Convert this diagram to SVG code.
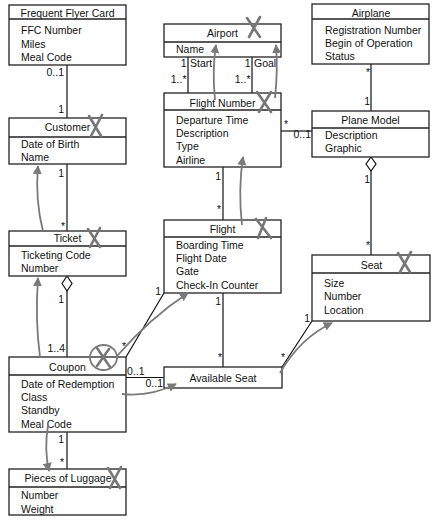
<svg xmlns="http://www.w3.org/2000/svg" width="444" height="527" viewBox="0 0 444 527">
<style>
.box{fill:#fff;stroke:#222;stroke-width:1.3}
.sep{stroke:#222;stroke-width:1.3}
.t{font-family:"Liberation Sans",Arial,sans-serif;font-size:10.5px;fill:#111}
.c{text-anchor:middle}
.m{font-family:"Liberation Sans",Arial,sans-serif;font-size:10.5px;fill:#111;text-anchor:end}
.ms{font-family:"Liberation Sans",Arial,sans-serif;font-size:10.5px;fill:#111}
.ln{stroke:#111;stroke-width:1.2;fill:none}
.dia{fill:#fff;stroke:#111;stroke-width:1.2}
.g{stroke:#7a7a7a;stroke-width:1.8;fill:none}
.x{stroke:#777;stroke-width:2.6;stroke-linecap:round;fill:none}
</style>
<defs>
<marker id="ah" viewBox="0 0 10 10" refX="9" refY="5" markerWidth="5" markerHeight="5" orient="auto" markerUnits="strokeWidth">
<path d="M0,0 L10,5 L0,10 z" fill="#7a7a7a"/>
</marker>
</defs>
<rect width="444" height="527" fill="#fff"/>

<g id="connectors">
<line class="ln" x1="67" y1="65" x2="67" y2="118"/>
<line class="ln" x1="67" y1="164" x2="67" y2="231"/>
<line class="ln" x1="67" y1="291" x2="67" y2="357"/>
<polygon class="dia" points="67,276 72,283.5 67,291 62,283.5"/>
<line class="ln" x1="67" y1="432" x2="67" y2="469"/>
<line class="ln" x1="188" y1="57" x2="188" y2="93"/>
<line class="ln" x1="252" y1="57" x2="252" y2="93"/>
<line class="ln" x1="223" y1="167" x2="223" y2="220"/>
<line class="ln" x1="223" y1="293" x2="223" y2="367"/>
<line class="ln" x1="281" y1="131" x2="312" y2="131"/>
<line class="ln" x1="371" y1="64" x2="371" y2="111"/>
<line class="ln" x1="371" y1="171" x2="371" y2="255"/>
<polygon class="dia" points="371,157 376,164 371,171 366,164"/>
<line class="ln" x1="126" y1="357" x2="164" y2="293"/>
<line class="ln" x1="126" y1="377.5" x2="164" y2="377.5"/>
<line class="ln" x1="282" y1="367" x2="312" y2="321"/>

<text class="m" x="64" y="76">0..1</text>
<text class="m" x="64" y="113">1</text>
<text class="m" x="64" y="177">1</text>
<text class="m" x="65" y="230">*</text>
<text class="m" x="64" y="303">1</text>
<text class="m" x="65" y="352">1..4</text>
<text class="m" x="64" y="443">1</text>
<text class="m" x="64" y="466">*</text>
<text class="m" x="186.5" y="67">1</text>
<text class="ms" x="190" y="67">Start</text>
<text class="m" x="186.5" y="83">1..*</text>
<text class="m" x="250.5" y="67">1</text>
<text class="ms" x="254" y="67">Goal</text>
<text class="m" x="250.5" y="83">1..*</text>
<text class="m" x="221" y="180">1</text>
<text class="m" x="221" y="213">*</text>
<text class="m" x="221" y="305">1</text>
<text class="m" x="222" y="361">*</text>
<text class="ms" x="284" y="128">*</text>
<text class="m" x="311" y="138">0..1</text>
<text class="m" x="370" y="76">*</text>
<text class="m" x="370" y="105">1</text>
<text class="m" x="370" y="183">1</text>
<text class="m" x="370" y="249">*</text>
<text class="ms" x="122" y="350">*</text>
<text class="m" x="161" y="295">1</text>
<text class="ms" x="127" y="375">0..1</text>
<text class="m" x="163" y="387">0..1</text>
<text class="m" x="310" y="322">1</text>
<text class="m" x="285" y="361">*</text>
</g>

<g id="ffc">
<rect class="box" x="9" y="5" width="117" height="60"/>
<line class="sep" x1="9" y1="19" x2="126" y2="19"/>
<text class="t c" x="67.5" y="17">Frequent Flyer Card</text>
<text class="t" x="21" y="34">FFC Number</text>
<text class="t" x="21" y="47.5">Miles</text>
<text class="t" x="21" y="61">Meal Code</text>
</g>

<g id="customer">
<rect class="box" x="9" y="118" width="117" height="46"/>
<line class="sep" x1="9" y1="137" x2="126" y2="137"/>
<text class="t c" x="67.5" y="131">Customer</text>
<text class="t" x="21" y="147.5">Date of Birth</text>
<text class="t" x="21" y="161">Name</text>
</g>

<g id="ticket">
<rect class="box" x="9" y="231" width="117" height="45"/>
<line class="sep" x1="9" y1="246" x2="126" y2="246"/>
<text class="t c" x="67.5" y="242">Ticket</text>
<text class="t" x="21" y="258.5">Ticketing Code</text>
<text class="t" x="21" y="272">Number</text>
</g>

<g id="coupon">
<rect class="box" x="9" y="357" width="117" height="75"/>
<line class="sep" x1="9" y1="375" x2="126" y2="375"/>
<text class="t c" x="67.5" y="371">Coupon</text>
<text class="t" x="21" y="387.5">Date of Redemption</text>
<text class="t" x="21" y="401">Class</text>
<text class="t" x="21" y="414">Standby</text>
<text class="t" x="21" y="427.5">Meal Code</text>
</g>

<g id="luggage">
<rect class="box" x="9" y="469" width="117" height="46"/>
<line class="sep" x1="9" y1="487" x2="126" y2="487"/>
<text class="t c" x="68" y="482">Pieces of Luggage</text>
<text class="t" x="21" y="499">Number</text>
<text class="t" x="21" y="512.5">Weight</text>
</g>

<g id="airport">
<rect class="box" x="164" y="24" width="117" height="33"/>
<line class="sep" x1="164" y1="42" x2="281" y2="42"/>
<text class="t c" x="222.5" y="37">Airport</text>
<text class="t" x="176" y="52.5">Name</text>
</g>

<g id="flightnumber">
<rect class="box" x="164" y="93" width="117" height="74"/>
<line class="sep" x1="164" y1="110" x2="281" y2="110"/>
<text class="t c" x="222.5" y="107">Flight Number</text>
<text class="t" x="176" y="123.5">Departure Time</text>
<text class="t" x="176" y="137">Description</text>
<text class="t" x="176" y="150">Type</text>
<text class="t" x="176" y="163.5">Airline</text>
</g>

<g id="flight">
<rect class="box" x="164" y="220" width="117" height="73"/>
<line class="sep" x1="164" y1="237" x2="281" y2="237"/>
<text class="t c" x="222.5" y="233">Flight</text>
<text class="t" x="176" y="248.5">Boarding Time</text>
<text class="t" x="176" y="262">Flight Date</text>
<text class="t" x="176" y="275">Gate</text>
<text class="t" x="176" y="288.5">Check-In Counter</text>
</g>

<g id="availableseat">
<rect class="box" x="164" y="367" width="118" height="21"/>
<text class="t c" x="223" y="381.5">Available Seat</text>
</g>

<g id="airplane">
<rect class="box" x="312" y="4" width="117" height="60"/>
<line class="sep" x1="312" y1="19" x2="429" y2="19"/>
<text class="t c" x="371" y="17">Airplane</text>
<text class="t" x="325" y="33.5">Registration Number</text>
<text class="t" x="325" y="47">Begin of Operation</text>
<text class="t" x="325" y="60">Status</text>
</g>

<g id="planemodel">
<rect class="box" x="312" y="111" width="117" height="46"/>
<line class="sep" x1="312" y1="128" x2="429" y2="128"/>
<text class="t c" x="370.5" y="124">Plane Model</text>
<text class="t" x="325" y="139">Description</text>
<text class="t" x="325" y="152">Graphic</text>
</g>

<g id="seat">
<rect class="box" x="312" y="255" width="118" height="66"/>
<line class="sep" x1="312" y1="273" x2="430" y2="273"/>
<text class="t c" x="371.5" y="268.5">Seat</text>
<text class="t" x="324" y="287">Size</text>
<text class="t" x="324" y="300">Number</text>
<text class="t" x="324" y="313.5">Location</text>
</g>

<g id="annotations">
<path class="g" d="M43,231 Q35,200 38,166" marker-end="url(#ah)"/>
<path class="g" d="M40,357 Q35,320 38,278" marker-end="url(#ah)"/>
<path class="g" d="M48,425 Q44,450 49,471" marker-end="url(#ah)"/>
<path class="g" d="M122,394 Q150,397 176,384" marker-end="url(#ah)"/>
<path class="g" d="M117,356 Q150,318 188,293" marker-end="url(#ah)"/>
<path class="g" d="M280,373 Q300,338 332,323" marker-end="url(#ah)"/>
<path class="g" d="M242,225 Q238,190 243,157" marker-end="url(#ah)"/>
<path class="g" d="M215,100 Q212,70 216,45" marker-end="url(#ah)"/>
<path class="g" d="M275,98 Q278,70 276,45" marker-end="url(#ah)"/>
<ellipse class="g" cx="103.5" cy="357.5" rx="13.5" ry="12.5" stroke-width="2"/>
<path class="x" d="M97,348 L110,367 M109,349 L97,366" stroke-width="2"/>
<path class="x" d="M89,116 L101,136 M102,115 L91,136"/>
<path class="x" d="M88,229 L100,247 M100,228 L90,247"/>
<path class="x" d="M247,18 L260,37 M260,17 L249,37"/>
<path class="x" d="M257,92 L271,112 M271,92 L259,112"/>
<path class="x" d="M256,219 L271,238 M266,218 L258,238"/>
<path class="x" d="M398,253 L410,272 M411,252 L400,272"/>
<path class="x" d="M108,468 L120,488 M121,467 L110,488"/>
</g>
</svg>
